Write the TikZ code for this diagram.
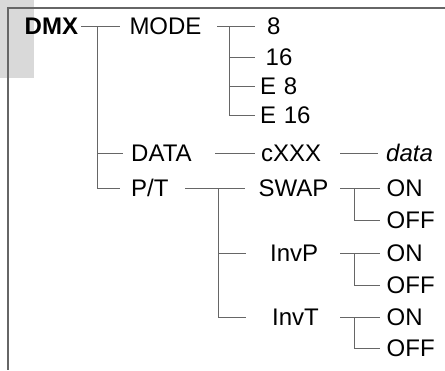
\documentclass[tikz,border=0pt]{standalone}
\usepackage{fontspec}
\setmainfont{Liberation Sans}
\begin{document}
\begin{tikzpicture}[x=1pt,y=-1pt,
  lbl/.style={anchor=west, inner sep=0pt, text height=17.2pt, text depth=0pt, font=\fontsize{24}{28}\selectfont},
  ln/.style={draw=black!60, line width=1pt},
  frameline/.style={draw=black!60, line width=1.5pt}]
\useasboundingbox (0,0) rectangle (445,370);
\fill[black!15] (0,0) rectangle (34,78);
\draw[frameline] (445,8) -- (8,8) -- (8,370);

% nodes
\node[lbl] (dmx) at (24.5,26) {\bfseries DMX};
\node[lbl] (mode) at (129.3,26) {MODE};
\node[lbl] (o8) at (267,26) {8};
\node[lbl] (o16) at (265.5,57) {16};
\node[lbl] (oe8) at (260,86) {E\hspace{1pt} 8};
\node[lbl] (oe16) at (260,115) {E\hspace{1pt} 16};
\node[lbl] (data) at (131,153) {DATA};
\node[lbl] (pt) at (131,188) {P/T};
\node[lbl] (cxxx) at (261,153) {cXXX};
\node[lbl] (dval) at (386,153) {\itshape data};
\node[lbl] (swap) at (258.5,188) {SWAP};
\node[lbl] (invp) at (270,253) {InvP};
\node[lbl] (invt) at (272,317) {InvT};
\node[lbl] (son) at (386.5,188) {ON};
\node[lbl] (soff) at (386.5,220) {OFF};
\node[lbl] (pon) at (386.5,253) {ON};
\node[lbl] (poff) at (386.5,285) {OFF};
\node[lbl] (ton) at (386.5,317) {ON};
\node[lbl] (toff) at (386.5,348) {OFF};

% stubs and junctions
\coordinate (s0) at (81,26);
\coordinate (j1) at (97,26);
\coordinate (s1) at (217,26);
\coordinate (j2) at (229,26);
\coordinate (s2) at (215,153);
\coordinate (s3) at (340,153);
\coordinate (s4) at (185,188);
\coordinate (j3) at (218,188);
\coordinate (s5) at (340,188);
\coordinate (j5) at (354,188);
\coordinate (s6) at (340,253);
\coordinate (j6) at (354,253);
\coordinate (s7) at (340,317);
\coordinate (j7) at (354,317);

% connectors
\draw[ln] (s0) -- ([xshift=-9.3pt]mode.west);
\draw[ln] (j1) |- ([xshift=-8pt]data.west);
\draw[ln] (j1) |- ([xshift=-11pt]pt.west);

\draw[ln] (s1) -- ([xshift=-12pt]o8.west);
\draw[ln] (j2) |- ([xshift=-10.5pt]o16.west);
\draw[ln] (j2) |- ([xshift=-5pt]oe8.west);
\draw[ln] (j2) |- ([xshift=-5pt]oe16.west);

\draw[ln] (s2) -- ([xshift=-6pt]cxxx.west);
\draw[ln] (s3) -- ([xshift=-8pt]dval.west);

\draw[ln] (s4) -- ([xshift=-13.5pt]swap.west);
\draw[ln] (j3) |- ([xshift=-24pt]invp.west);
\draw[ln] (j3) |- ([xshift=-26pt]invt.west);

\draw[ln] (s5) -- ([xshift=-6.5pt]son.west);
\draw[ln] (j5) |- ([xshift=-6.5pt]soff.west);
\draw[ln] (s6) -- ([xshift=-6.5pt]pon.west);
\draw[ln] (j6) |- ([xshift=-6.5pt]poff.west);
\draw[ln] (s7) -- ([xshift=-6.5pt]ton.west);
\draw[ln] (j7) |- ([xshift=-6.5pt]toff.west);
\end{tikzpicture}
\end{document}
